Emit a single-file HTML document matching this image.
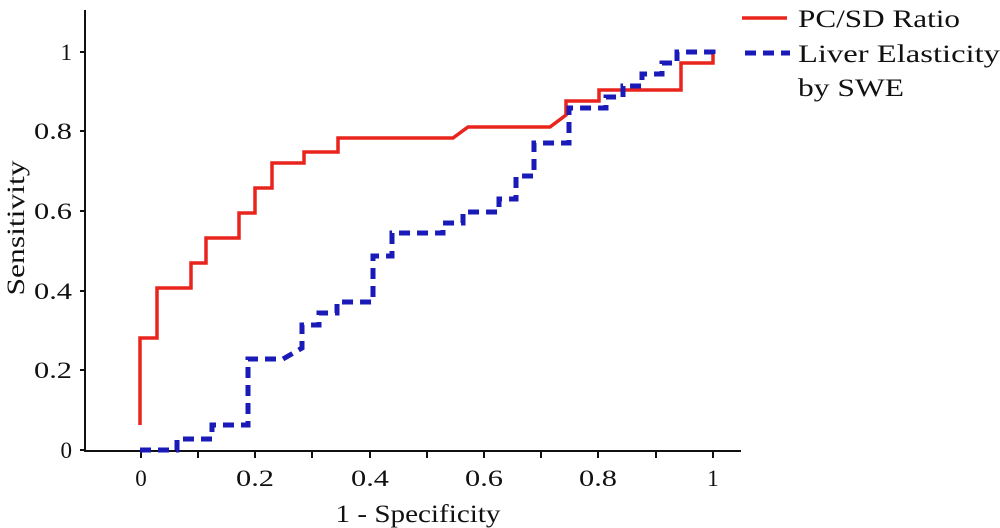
<!DOCTYPE html>
<html><head><style>body{margin:0;background:#fff}svg{display:block}text{font-family:"Liberation Serif",serif;fill:#111}</style></head>
<body>
<svg width="1000" height="528" viewBox="0 0 1000 528">
<g stroke="#111" stroke-width="2" fill="none">
<path d="M85,10 V451 H741"/>
<path d="M85,52 H80 M85,131 H80 M85,211 H80 M85,291 H80 M85,370 H80 M85,450 H80"/>
<path d="M141,451 V458 M198,451 V458 M255,451 V458 M312,451 V458 M370,451 V458 M427,451 V458 M484,451 V458 M541,451 V458 M598,451 V458 M656,451 V458 M713,451 V458"/>
</g>
<g font-size="23" text-anchor="end">
<text x="72" y="60">1</text><text x="72" y="139" textLength="38" lengthAdjust="spacingAndGlyphs">0.8</text><text x="72" y="219" textLength="38" lengthAdjust="spacingAndGlyphs">0.6</text><text x="72" y="299" textLength="38" lengthAdjust="spacingAndGlyphs">0.4</text><text x="72" y="378" textLength="38" lengthAdjust="spacingAndGlyphs">0.2</text><text x="72" y="458">0</text>
</g>
<g font-size="23" text-anchor="middle">
<text x="141" y="486">0</text><text x="255" y="486" textLength="38" lengthAdjust="spacingAndGlyphs">0.2</text><text x="370" y="486" textLength="38" lengthAdjust="spacingAndGlyphs">0.4</text><text x="484" y="486" textLength="38" lengthAdjust="spacingAndGlyphs">0.6</text><text x="598" y="486" textLength="38" lengthAdjust="spacingAndGlyphs">0.8</text><text x="713" y="486">1</text>
<text x="418" y="522" font-size="25" textLength="165" lengthAdjust="spacingAndGlyphs">1 - Specificity</text>
<text transform="translate(24,228) rotate(-90)" font-size="25" textLength="135" lengthAdjust="spacingAndGlyphs">Sensitivity</text>
</g>
<path fill="none" stroke="#e8241c" stroke-width="3.5" d="M140,425 V338 H157 V288 H191 V263 H206 V238 H239 V213 H255 V188 H272 V163 H304 V152 H338 V138 H453 L468,127 H550 L566,115 V101 H599 V90 H681 V63 H713 V52"/>
<path fill="none" stroke="#1a1ab8" stroke-width="5" stroke-dasharray="11,7" d="M140,450 H177 V439 H212 V425 H248 V359 H283 L302,348 V325 H319 V313 H337 V302 H373 V256 H392 V233 H443 V223 H463 V212 H499 V199 H516 V176 H534 V143 H569 V108 H606 V97 H623 V86 H642 V74 H662 V63 H677 V52 H713 V60"/>
<line x1="742" y1="18" x2="787" y2="18" stroke="#e8241c" stroke-width="3.5"/>
<line x1="745" y1="53" x2="790" y2="53" stroke="#1a1ab8" stroke-width="5" stroke-dasharray="11,7"/>
<g font-size="25"><text x="798" y="27" textLength="162" lengthAdjust="spacingAndGlyphs">PC/SD Ratio</text><text x="798" y="62" textLength="202" lengthAdjust="spacingAndGlyphs">Liver Elasticity</text><text x="798" y="96" textLength="106" lengthAdjust="spacingAndGlyphs">by SWE</text></g>
</svg>
</body></html>
